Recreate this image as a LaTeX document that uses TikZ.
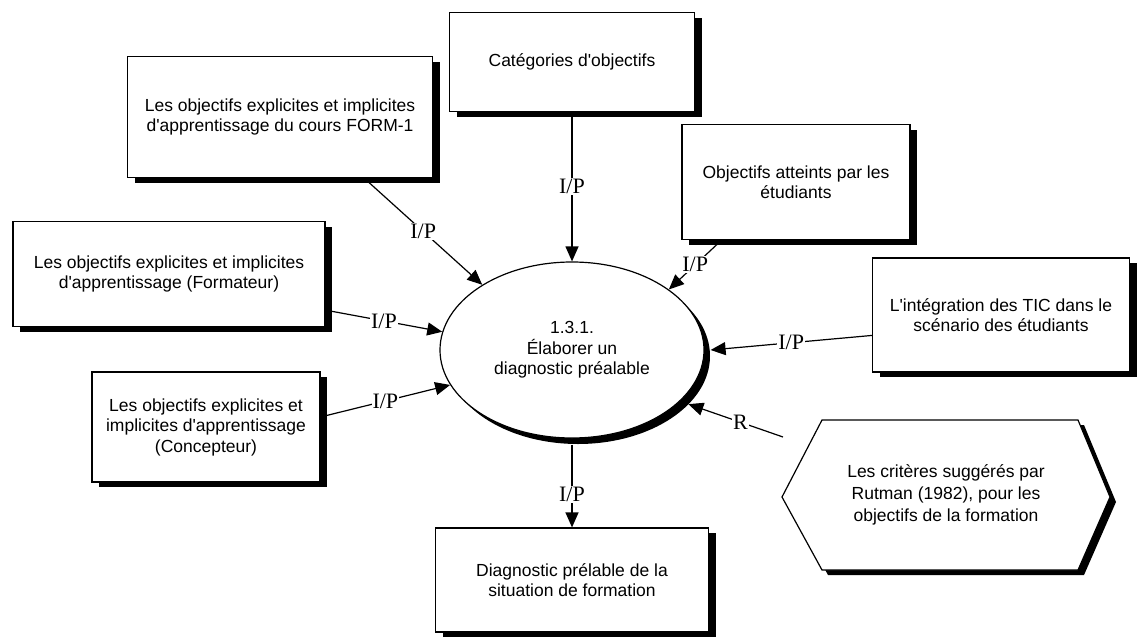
\documentclass[tikz,border=0pt]{standalone}
\usepackage{fontspec}
\setsansfont{Liberation Sans}[Ligatures=TeXOff]
\newfontfamily\labfont{Liberation Serif}
\usetikzlibrary{shapes.geometric,shadows,arrows.meta}

\begin{document}
\begin{tikzpicture}[x=1pt, y=-1pt, line width=1.2pt,
    box/.style={rectangle, draw, fill=white, align=center, inner sep=0pt,
      font=\sffamily\fontsize{17.5}{20.5}\selectfont,
      drop shadow={shadow xshift=7pt, shadow yshift=-5pt, fill=black, opacity=1}},
    proc/.style={ellipse, draw, fill=white, align=center, inner sep=0pt,
      minimum width=264pt, minimum height=176pt,
      font=\sffamily\fontsize{17.5}{20.5}\selectfont,
      drop shadow={shadow xshift=6pt, shadow yshift=-6pt, fill=black, opacity=1}},
    hexa/.style={draw, fill=white,
      drop shadow={shadow xshift=6pt, shadow yshift=-5pt, fill=black, opacity=1}},
    hextext/.style={align=center, font=\sffamily\fontsize{17.5}{22}\selectfont},
    lab/.style={fill=white, inner sep=1pt, font=\labfont\fontsize{22}{22}\selectfont},
    arr/.style={draw, -{Triangle[length=15pt, width=13pt]}}]

    \useasboundingbox (0,0) rectangle (1138,637);

    % process in the middle
    \node[proc] (proc) at (572,350) {1.3.1.\\Élaborer un\\diagnostic préalable};

    % boxes round it
    \node[box, minimum width=305pt, minimum height=121pt] (form1) at (280,117)
      {Les objectifs explicites et implicites\\d'apprentissage du cours FORM-1};
    \node[box, minimum width=245pt, minimum height=99pt] (categ) at (572,62)
      {Catégories d'objectifs};
    \node[box, minimum width=228pt, minimum height=115pt] (atteints) at (796,182)
      {Objectifs atteints par les\\étudiants};
    \node[box, minimum width=312pt, minimum height=105pt] (formateur) at (169,274)
      {Les objectifs explicites et implicites\\d'apprentissage (Formateur)};
    \node[box, minimum width=257pt, minimum height=114pt] (tic) at (1001,315)
      {L'intégration des TIC dans le\\scénario des étudiants};
    \node[box, minimum width=228pt, minimum height=110pt] (concept) at (206,427)
      {Les objectifs explicites et\\implicites d'apprentissage\\(Concepteur)};
    \node[box, minimum width=273pt, minimum height=104pt] (diag) at (572,580)
      {Diagnostic prélable de la\\situation de formation};

    % criteria
    \draw[hexa] (782,497) -- (822,420) -- (1078,420) -- (1110,497)
      -- (1078,570) -- (822,570) -- cycle;
    \node[hextext] (rutman) at (946,495)
      {Les critères suggérés par\\Rutman (1982), pour les\\objectifs de la formation};
    \coordinate (rfree) at (783,437);

    \path
    (form1.-36.6) edge[arr] node[lab] {I/P} (proc.144)
    (categ.south) edge[arr] node[lab] {I/P} (proc.north)
    (atteints.218) edge[arr] node[lab] {I/P} (proc.32.5)
    (formateur.-13.6) edge[arr] node[lab] {I/P} (proc.172.5)
    (concept.5) edge[arr] node[lab] {I/P} (proc.196.6)
    (tic.189) edge[arr] node[lab] {I/P} ([xshift=6pt]proc.east)
    (rfree) edge[arr] node[lab, pos=0.45] {R} ([shift={(6pt,-5pt)}]proc.-24)
    ([yshift=-6pt]proc.south) edge[arr] node[lab, pos=0.6] {I/P} (diag.north);
\end{tikzpicture}
\end{document}
